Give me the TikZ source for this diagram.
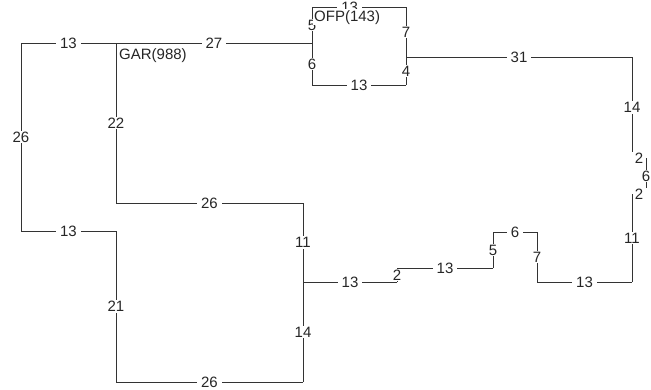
\documentclass[tikz,border=0pt]{standalone}
\usepackage{fontspec}
\setmainfont{Liberation Sans}
\usepackage{tikz}
\tikzset{
  seg/.style={draw=black!80,line width=1pt},
  len/.style={fill=white,inner xsep=4pt,inner ysep=1pt,text=black!85,
              font=\fontsize{15}{17}\selectfont},
  tag/.style={len,inner xsep=1pt,anchor=north west},
}

\begin{document}
\begin{tikzpicture}[x=1pt, y=-1pt]
  \useasboundingbox (0,0) rectangle (651,389);
  % corners of the outline
  \coordinate (tl)   at (21,43);
  \coordinate (gar)  at (116,43);
  \coordinate (ofpl) at (312,43);
  \coordinate (otl)  at (312,7);
  \coordinate (otr)  at (406,7);
  \coordinate (ofpr) at (406,57);
  \coordinate (obr)  at (406,85);
  \coordinate (obl)  at (312,85);
  \coordinate (rt)   at (632,57);
  \coordinate (j1)   at (632,158);
  \coordinate (j2)   at (646,158);
  \coordinate (j3)   at (646,194);
  \coordinate (j4)   at (632,194);
  \coordinate (rb)   at (632,282);
  \coordinate (s1)   at (537,282);
  \coordinate (s2)   at (537,232);
  \coordinate (s3)   at (493,232);
  \coordinate (s4)   at (493,268);
  \coordinate (s5)   at (397,268);
  \coordinate (s6)   at (397,282);
  \coordinate (mid)  at (303,282);
  \coordinate (mt)   at (303,203);
  \coordinate (g2)   at (116,203);
  \coordinate (lb)   at (21,231);
  \coordinate (l2)   at (116,231);
  \coordinate (lbb)  at (116,382);
  \coordinate (rbb)  at (303,382);
  % outer walls
  \draw[seg] (tl) -- node[len]{13} (gar);
  \draw[seg] (gar) -- node[len]{27} (ofpl);
  \draw[seg] (ofpl) -- node[len]{5} (otl);
  \draw[seg] (otl) -- node[len,pos=0.4]{13} (otr);
  \draw[seg] (otr) -- node[len]{7} (ofpr);
  \draw[seg] (ofpr) -- node[len]{4} (obr);
  \draw[seg] (obr) -- node[len]{13} (obl);
  \draw[seg] (obl) -- node[len]{6} (ofpl);
  \draw[seg] (ofpr) -- node[len]{31} (rt);
  \draw[seg] (rt) -- node[len]{14} (j1);
  \draw[seg] (j1) -- node[len]{2} (j2);
  \draw[seg] (j2) -- node[len]{6} (j3);
  \draw[seg] (j3) -- node[len]{2} (j4);
  \draw[seg] (j4) -- node[len]{11} (rb);
  \draw[seg] (rb) -- node[len]{13} (s1);
  \draw[seg] (s1) -- node[len]{7} (s2);
  \draw[seg] (s2) -- node[len]{6} (s3);
  \draw[seg] (s3) -- node[len]{5} (s4);
  \draw[seg] (s4) -- node[len]{13} (s5);
  \draw[seg] (s5) -- node[len]{2} (s6);
  \draw[seg] (s6) -- node[len]{13} (mid);
  \draw[seg] (mid) -- node[len]{11} (mt);
  \draw[seg] (mt) -- node[len]{26} (g2);
  \draw[seg] (g2) -- node[len]{22} (gar);
  \draw[seg] (tl) -- node[len]{26} (lb);
  \draw[seg] (lb) -- node[len]{13} (l2);
  \draw[seg] (l2) -- node[len]{21} (lbb);
  \draw[seg] (lbb) -- node[len]{26} (rbb);
  \draw[seg] (rbb) -- node[len]{14} (mid);
  % room names
  \node[tag] (garlbl) at (118,47) {GAR(988)};
  \node[tag] (ofplbl) at (313,9) {OFP(143)};
\end{tikzpicture}
\end{document}
